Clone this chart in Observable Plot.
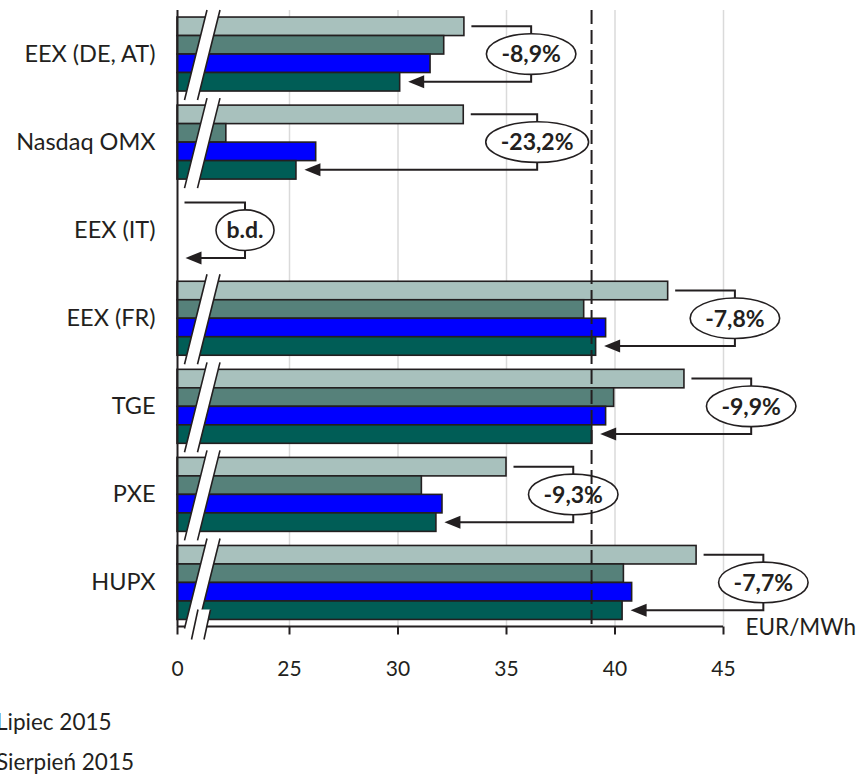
<!DOCTYPE html>
<html><head><meta charset="utf-8">
<script src="https://cdn.jsdelivr.net/npm/d3@7"></script>
<script src="https://cdn.jsdelivr.net/npm/@observablehq/plot@0.6"></script>
<style>
body{margin:0;background:#fff;font-family:Lato,sans-serif;color:#231f20;}
#chart svg{display:block;}
#legend{position:relative;left:-4px;margin-top:2px;font-size:22.5px;line-height:40px;white-space:nowrap;}
</style></head><body>
<div id="chart"></div>
<div id="legend"></div>
<script>
// ---- data (EUR/MWh) ----
const categories = ["EEX (DE, AT)", "Nasdaq OMX", "EEX (IT)", "EEX (FR)", "TGE", "PXE", "HUPX"];
const series1 = [33.06, 33.03, null, 42.45, 43.2, 35.0, 43.76];   // light grey-teal
const series2 = [32.13, 10.9, null, 38.58, 39.96, 31.1, 40.41];    // medium teal
const series3 = [31.5, 26.23, null, 39.59, 39.59, 32.05, 40.79];   // blue
const series4 = [30.1, 25.32, null, 39.13, 38.95, 31.77, 40.35];   // dark green
const changeLabels = ["-8,9%", "-23,2%", "b.d.", "-7,8%", "-9,9%", "-9,3%", "-7,7%"];
const averageLine = 38.92;
const xTicks = [0, 25, 30, 35, 40, 45];
const gridTicks = [25, 30, 35, 40, 45];
const unitLabel = "EUR/MWh";
const legendLabels = ["Lipiec 2015", "Sierpień 2015"];

// ---- styling / layout ----
const colors = ["#a8c1bd", "#56817a", "#0000ff", "#005d56"];
const ink = "#231f20";
const W = 863, H = 700, mt = 10, mb = 73.5, ml = 177, mr = 140;
const breakPx = 112;
const padInner = 0.16;
const step = (H - mb - mt) / categories.length;
const bw = step * (1 - padInner);
const bh = bw / 4;
const labelFont = "bold 23px Lato";

const allSeries = [series1, series2, series3, series4];
const rows = categories.map((c, i) => ({cat: c, v: allSeries.map(s => s[i]), label: changeLabels[i]}));

const ctx = document.createElement("canvas").getContext("2d");
ctx.font = labelFont;

function decorations(index, scales, values, dimensions) {
  const x = scales.x, y = scales.y;
  const bwid = y.bandwidth ? y.bandwidth() : bw;
  const bhh = bwid / 4;
  const x0 = x(0);
  const axisY = dimensions.height - dimensions.marginBottom;
  const g = d3.create("svg:g");

  const strip = (yTop, yBot, xlTop, xlBot, w) => {
    g.append("polygon")
      .attr("points", `${xlTop},${yTop} ${xlTop + w},${yTop} ${xlBot + w},${yBot} ${xlBot},${yBot}`)
      .attr("fill", "white");
    g.append("path")
      .attr("d", `M${xlTop},${yTop}L${xlBot},${yBot}M${xlTop + w},${yTop}L${xlBot + w},${yBot}`)
      .attr("stroke", ink).attr("stroke-width", 1.6).attr("fill", "none");
  };

  // bottom axis line
  g.append("line").attr("x1", x0).attr("x2", x(45)).attr("y1", axisY).attr("y2", axisY)
    .attr("stroke", ink).attr("stroke-width", 2);

  // break strips on groups with data
  rows.forEach(r => {
    if (r.v[0] == null) return;
    const top = y(r.cat);
    strip(top - 7, top + bwid + 9, x0 + 30, x0 + 7.5, 13);
  });
  // break strip on axis
  strip(axisY - 17, axisY + 13, x0 + 21, x0 + 14.5, 12.5);

  // annotations
  rows.forEach(r => {
    const top = y(r.cat);
    const cy = top + bwid / 2;
    const yL = top + bhh / 2;
    const yD = top + 3.5 * bhh;
    const has = r.v[0] != null;
    const lightEnd = has ? x(r.v[0]) : x0;
    const darkEnd = has ? x(r.v[3]) : x0;
    const ellLeft = has ? lightEnd + 22.5 : x0 + 39;
    const lineStart = lightEnd + 7.5;
    const tw = ctx.measureText(r.label).width;
    const rx = tw / 2 + (has ? 15 : 10.5);
    const ry = 20.3;
    const bx = ellLeft + rx;
    const tip = darkEnd + 8.5;
    g.append("path")
      .attr("d", `M${lineStart},${yL}H${bx}V${cy - ry}M${bx},${cy + ry}V${yD}H${tip + 14}`)
      .attr("stroke", ink).attr("stroke-width", 2).attr("fill", "none");
    g.append("polygon")
      .attr("points", `${tip},${yD} ${tip + 16},${yD - 6.5} ${tip + 16},${yD + 6.5}`)
      .attr("fill", ink);
    g.append("ellipse").attr("cx", bx).attr("cy", cy).attr("rx", rx).attr("ry", ry)
      .attr("fill", "white").attr("stroke", ink).attr("stroke-width", 1.6);
    g.append("text").attr("x", bx).attr("y", cy).attr("dy", "0.36em")
      .attr("text-anchor", "middle").attr("font-weight", "bold").attr("font-size", 23)
      .attr("fill", ink).text(r.label);
  });
  return g.node();
}

const barMarks = allSeries.map((s, k) =>
  Plot.barX(rows.filter(r => r.v[k] != null), {
    y: "cat", x1: 0, x2: r => r.v[k],
    fill: colors[k], stroke: ink, strokeWidth: 1.6,
    insetTop: k * bh, insetBottom: (3 - k) * bh
  })
);

const chart = Plot.plot({
  width: W, height: H,
  marginTop: mt, marginBottom: mb, marginLeft: ml, marginRight: mr,
  style: {fontFamily: "Lato, sans-serif", color: ink, background: "white"},
  x: {type: "linear", domain: [0, 25, 45], range: [ml, ml + breakPx, W - mr]},
  y: {type: "band", domain: categories, paddingInner: padInner, paddingOuter: padInner / 2, round: false},
  marks: [
    Plot.ruleX(gridTicks, {stroke: "#dadada", strokeWidth: 1.5}),
    ...barMarks,
    Plot.ruleX([0], {stroke: ink, strokeWidth: 2}),
    decorations,
    Plot.ruleX([averageLine], {stroke: ink, strokeWidth: 2, strokeDasharray: "14,6"}),
    Plot.axisX({ticks: xTicks, tickFormat: d => String(d), tickSize: 8, tickPadding: 26, fontSize: 21, strokeWidth: 2, label: null}),
    Plot.axisY({tickSize: 0, tickPadding: 22, fontSize: 23.5, label: null}),
    Plot.text([unitLabel], {frameAnchor: "bottom-right", dx: 22, dy: 1, textAnchor: "start", lineAnchor: "middle", fontSize: 22.5, fill: ink})
  ]
});
document.getElementById("chart").appendChild(chart);

const legend = document.getElementById("legend");
legendLabels.forEach(t => { const d = document.createElement("div"); d.textContent = t; legend.appendChild(d); });
</script>
</body></html>
